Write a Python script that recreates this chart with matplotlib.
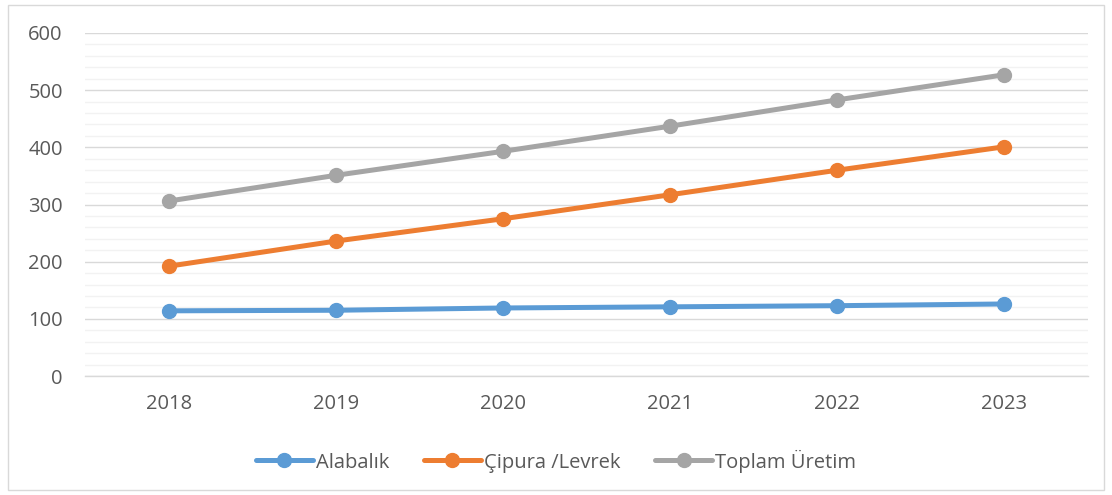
import matplotlib
matplotlib.use("Agg")
import matplotlib.pyplot as plt
from matplotlib.patches import Rectangle
from matplotlib.ticker import MultipleLocator

years = ["2018", "2019", "2020", "2021", "2022", "2023"]
alabalik = [114, 115, 119, 121, 123, 126]
cipura = [192, 236, 275, 317, 360, 401]
toplam = [306, 351, 393, 437, 483, 527]
series_names = ["Alabalık", "Çipura /Levrek", "Toplam Üretim"]
colors = ["#5B9BD5", "#ED7D31", "#A5A5A5"]

plt.rcParams['font.family'] = ['Open Sans', 'DejaVu Sans']

fig = plt.figure(figsize=(11.12, 4.95), dpi=100)
ax = fig.add_axes([85/1112, 1-376/495, (1088-85)/1112, (376-33)/495])

x = list(range(len(years)))
for vals, name, c in zip([alabalik, cipura, toplam], series_names, colors):
    ax.plot(x, vals, color=c, lw=3.6, marker='o', markersize=10, label=name,
            solid_capstyle='round', zorder=3)

ax.set_xlim(-0.5, len(years) - 0.5)
ax.set_ylim(0, 600)
ax.yaxis.set_major_locator(MultipleLocator(100))
ax.yaxis.set_minor_locator(MultipleLocator(20))
ax.set_xticks(x)
ax.set_xticklabels(years)
ax.grid(which='major', axis='y', color='#D9D9D9', lw=1.0, zorder=0)
ax.grid(which='minor', axis='y', color='#F2F2F2', lw=1.0, zorder=0)
for s in ['top', 'right', 'left']:
    ax.spines[s].set_visible(False)
ax.spines['bottom'].set_color('#D9D9D9')
ax.spines['bottom'].set_linewidth(1.0)
ax.tick_params(axis='both', which='both', length=0, labelsize=14.5, colors='#595959')
ax.tick_params(axis='y', pad=16)
ax.tick_params(axis='x', pad=13)

leg = fig.legend(loc='center', bbox_to_anchor=(0.5, 1-461/495), ncol=3, frameon=False,
                 fontsize=14.5, handlelength=2.85, columnspacing=1.7, handletextpad=0.15)
for t in leg.get_texts():
    t.set_color('#595959')

fig.patches.append(Rectangle((8/1112, 5/495), 1 - 16/1112, 1 - 10/495, transform=fig.transFigure,
                             fill=False, edgecolor='#D9D9D9', lw=1.0))

fig.savefig("out.png", dpi=100)
